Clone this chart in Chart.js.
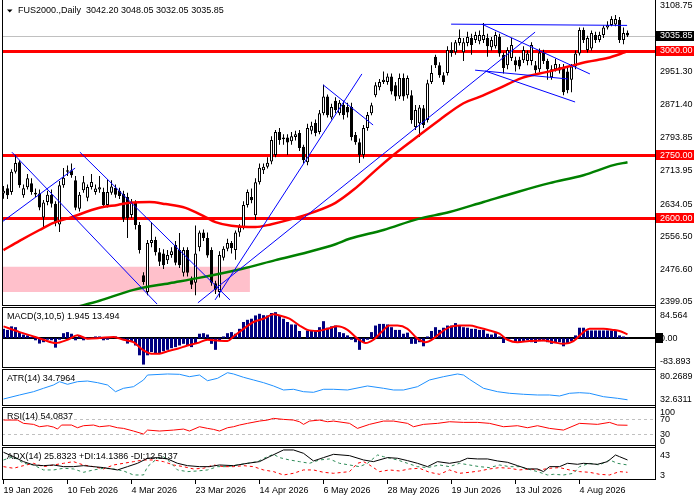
<!DOCTYPE html>
<html><head><meta charset="utf-8">
<script src="https://cdn.jsdelivr.net/npm/chart.js@4/dist/chart.umd.min.js"></script>
<style>
html,body{margin:0;padding:0;background:#fff;}
#wrap{position:relative;width:700px;height:500px;overflow:hidden;background:#fff;}
canvas{position:absolute;left:0;}
</style></head><body>
<div id="wrap">
<canvas id="cMain" width="700" height="306" style="top:0px"></canvas>
<canvas id="cMacd" width="700" height="62" style="top:306px"></canvas>
<canvas id="cAtr" width="700" height="38" style="top:368px"></canvas>
<canvas id="cRsi" width="700" height="40" style="top:406px"></canvas>
<canvas id="cAdx" width="700" height="54" style="top:446px"></canvas>
</div>
<script>
// ---------------- DATA ----------------
const mainTitle = 'FUS2000.,Daily  3042.20 3048.05 3032.05 3035.85';
const macdTitle = 'MACD(3,10,5) 1.945 13.494';
const atrTitle = 'ATR(14) 34.7964';
const rsiTitle = 'RSI(14) 54.0837';
const adxTitle = 'ADX(14) 25.8323 +DI:14.1386 -DI:12.5137';

const dateLabels = ['19 Jan 2026','10 Feb 2026','4 Mar 2026','23 Mar 2026','14 Apr 2026','6 May 2026','28 May 2026','19 Jun 2026','13 Jul 2026','4 Aug 2026'];
const dateTickBars = [0,16,32,48,64,80,96,112,128,144];

const priceOpen = [2658,2671,2662,2710,2733,2654,2673,2683,2660,2658,
2601,2638,2655,2634,2584,2678,2710,2714,2690,2622,
2666,2648,2674,2662,2668,2662,2631,2660,2672,2665,
2657,2650,2607,2636,2583,2463,2423,2540,2547,2518,
2515,2499,2511,2535,2523,2469,2523,2455,2445,2530,
2565,2552,2523,2444,2423,2505,2526,2540,2523,2565,
2578,2631,2650,2606,2685,2714,2722,2735,2750,2805,
2788,2792,2783,2793,2803,2770,2733,2808,2827,2805,
2850,2890,2840,2880,2850,2870,2865,2865,2798,2781,
2750,2815,2850,2893,2912,2925,2925,2938,2917,2890,
2934,2893,2893,2817,2826,2862,2834,2925,2985,2965,
2941,2946,3001,2996,3018,2996,3018,3030,3025,3022,
3025,3030,3008,3010,3032,2990,2965,2982,2977,2978,
2977,2975,2975,2965,2955,2995,2975,2936,2955,2952,
2960,2950,2930,2962,2993,3049,3001,3005,3037,3025,
3037,3055,3061,3062,3073,3025,3042.20];
const priceHigh = [2676,2680,2716,2750,2738,2680,2705,2695,2670,2668,
2643,2665,2668,2640,2688,2719,2725,2730,2700,2662,
2700,2680,2705,2680,2700,2672,2692,2690,2680,2672,
2665,2660,2645,2642,2590,2470,2547,2590,2555,2528,
2525,2523,2530,2545,2564,2530,2530,2460,2582,2570,
2572,2565,2530,2450,2520,2532,2550,2545,2570,2585,
2640,2668,2670,2695,2730,2730,2745,2795,2810,2815,
2800,2800,2805,2808,2810,2775,2825,2830,2835,2858,
2918,2895,2873,2888,2882,2880,2875,2875,2805,2790,
2822,2853,2875,2924,2932,2950,2945,2945,2925,2945,
2945,2940,2905,2870,2870,2870,2930,2965,2990,2972,
2948,3010,3020,3025,3050,3030,3045,3040,3045,3048,
3066,3040,3032,3045,3040,2995,3008,3030,2985,2985,
3010,3000,3020,2975,3005,3002,2980,2965,2980,2968,
2968,2960,2968,3000,3055,3055,3035,3048,3045,3045,
3060,3070,3082,3085,3080,3055,3048.05];
const priceLow = [2646,2645,2655,2706,2672,2648,2668,2655,2650,2618,
2575,2630,2625,2580,2566,2672,2700,2696,2618,2615,
2660,2640,2668,2655,2660,2625,2625,2655,2648,2645,
2590,2552,2600,2572,2515,2440,2415,2530,2510,2485,
2478,2490,2505,2487,2480,2460,2460,2430,2415,2520,
2545,2505,2438,2418,2410,2498,2520,2515,2500,2555,
2572,2625,2635,2595,2680,2705,2718,2728,2745,2775,
2775,2750,2775,2785,2760,2730,2726,2800,2795,2800,
2845,2840,2835,2850,2845,2835,2840,2785,2775,2731,
2742,2808,2845,2888,2905,2920,2918,2895,2880,2884,
2880,2885,2825,2810,2793,2815,2828,2920,2958,2935,
2918,2940,2985,2990,3012,2975,3010,2990,3018,3015,
3018,2985,3000,3005,2985,2945,2955,2975,2950,2955,
2970,2965,2965,2945,2948,2968,2930,2930,2950,2945,
2893,2898,2900,2955,2988,3018,2995,3000,3018,3020,
3030,3050,3058,3058,3018,3015,3032.05];
const priceClose = [2665,2654,2710,2731,2678,2671,2695,2662,2656,2625,
2637,2655,2634,2587,2678,2696,2714,2702,2624,2655,
2685,2674,2686,2670,2673,2631,2662,2675,2655,2652,
2598,2600,2638,2583,2523,2447,2540,2547,2518,2495,
2487,2511,2520,2493,2487,2523,2469,2440,2515,2565,
2552,2510,2445,2428,2511,2526,2540,2528,2565,2578,
2631,2662,2642,2685,2720,2722,2732,2786,2805,2786,
2792,2780,2795,2800,2767,2738,2815,2820,2803,2850,
2890,2845,2865,2858,2875,2846,2852,2793,2781,2750,
2815,2846,2869,2917,2925,2930,2938,2902,2890,2934,
2890,2934,2834,2858,2864,2822,2922,2946,2965,2941,
2925,3001,2994,3020,3030,3020,3032,3013,3037,3037,
3037,3010,3025,3037,2993,2958,3001,3013,2965,2962,
3001,2993,3013,2953,2995,2975,2955,2955,2968,2960,
2900,2905,2962,2993,3049,3025,3030,3042,3025,3037,
3055,3061,3075,3075,3025,3042,3035.85];

const priceTicks = [3108.75,3035.85,3000.00,2951.30,2871.40,2793.85,2750.00,2713.95,2634.05,2600.00,2556.50,2476.60,2399.05];
const levelLines = [3000, 2750, 2600];
const currentPrice = 3035.85;

const maRedBars = [0,4,9,12.5,16.5,24,28.5,31.5,36.5,40.5,45.5,50.5,53,57,63,67,72,77,83,87.5,94,98.5,104,109,115,119,124,129.5,136,141,146,151,155.5];
const maRedVals = [2523,2545,2571,2588,2600,2624,2631,2636,2638,2633,2624,2602,2590,2581,2578,2585,2597,2612,2636,2667,2722,2758,2798,2834,2874,2889,2910,2934,2949,2961,2973,2982,2996];
const maGreenBars = [18,24,32.5,41.5,48.5,59.5,68,76,83,86.5,95,103.5,111.5,120,128.5,136.5,145,152.5,156];
const maGreenVals = [2386,2402,2428,2444,2456,2478,2499,2518,2537,2550,2571,2597,2614,2638,2662,2683,2702,2726,2733];

// trend lines: [bar1, price1, bar2, price2]
const trendLines = [
  [2.1,2757,38.4,2394],
  [19.1,2757,56.6,2404],
  [-0.4,2590,17.9,2719],
  [52.9,2404,89.6,2944],
  [48.6,2397,132.9,3044],
  [79.9,2918,92.4,2822],
  [111.9,3063,155.9,3060],
  [119.6,3063,146.6,2944],
  [117.9,2953,141.1,2932],
  [120.4,2951,142.9,2877]
];
const zoneBars = [-0.375, 61.6];
const zoneLow = 2423, zoneHigh = 2483;

const macdHist = [34,30,43,40,22,13,10,4,-8,-20,
-15,-6,-8,-35,-6,18,22,16,-8,10,
-8,2,-3,6,6,-8,-6,1,6,-2,
-6,-20,-11,-27,-63,-97,-63,-51,-57,-55,
-48,-43,-37,-33,-27,-21,-27,-33,-21,16,
18,13,-21,-43,-11,6,18,22,16,34,
59,67,71,83,89,84,83,92,95,83,
71,59,50,50,26,0,28,26,28,40,
62,38,43,46,22,18,10,
-6,-15,-43,-15,-6,22,46,52,52,50,
40,30,30,16,20,-21,-21,-15,-30,6,
26,40,30,38,46,46,55,46,40,38,
34,34,30,30,16,13,18,6,-18,-6,
-2,-18,-15,-11,-8,-15,-18,-11,-11,-15,
-21,-15,-15,-30,-18,-11,10,38,38,28,
28,28,28,28,28,28,28,10,6,
1.9];
const sigBars = [0,4,7.5,10,13,16,18.5,21,24,27.5,30,32.5,35,37,39,41,43.5,46,48.5,51,53.5,56,57.5,60,62.5,65,67.5,69,71.5,74,76,78.5,81,83.5,86,88.5,90.5,92.5,94.5,96.5,98.5,101,103.5,105.5,107.5,109.5,111.5,114,116.5,119,121.5,124,126,128.5,131.5,135,137.5,140,142.5,145,146.5,150,152.5,154,156];
const sigVals = [43,22,6,-6,-18,-6,10,-2,0,4,-6,-15,-45,-57,-57,-48,-39,-27,-18,-6,-9,-11,6,34,59,71,87,83,71,46,30,26,34,43,30,-2,-18,-6,22,46,46,34,-2,-15,-2,22,40,46,46,38,28,16,-6,-15,-11,-9,-15,-21,-11,22,34,34,30,26,13.5];
const macdTicks = [84.564, 0, -83.893];
const macdTickText = ['84.564','0.00','-83.893'];

const atrBars = [0,4,7.5,10,12.5,14,16,18.5,21,23.5,26,28,30,32.5,35,36,41,44,46.5,49,51,53.5,56,57.5,60,62.5,65,67.5,70,72.5,75,77.5,80,82.5,86,91,95,97.5,100,103.5,106.5,110,113.5,115,116.5,120,123.5,126.5,130,133.5,136.5,139,141.5,144,146.5,150,153.5,156];
const atrVals = [32.6,41.1,48.1,55.3,62.3,69.3,63.7,69.3,70.7,67.2,62.3,48.1,55.3,58.7,72.9,83.4,85.6,84.9,79.9,83.4,71.4,76.4,88.3,85.6,78.6,72.9,67.2,60.2,51.7,53.2,48.1,46.8,53.2,53.2,51.7,60.2,55.3,51.7,51.7,58.7,72.9,79.9,85.6,83.4,74.3,55.3,48.1,44.7,42.6,41.1,41.1,39,44.7,46,44.7,37.5,34.1,31];
const atrTicks = [80.2689, 32.6311];
const atrTickText = ['80.2689','32.6311'];

const rsiBars = [0,3.5,5,7.5,9,11,12.5,13.5,14.5,17,18.5,20,22.5,24,26.5,28.5,30,32.5,35,36,39,42.5,45,46.5,49,51,52.5,54,56,57.5,59,61,64,66,67.5,70,72.5,74,75,76.5,79,81,82.5,86.5,88.5,91.5,95,97.5,101,102.5,105,108.5,111.5,115,118.5,121.5,125,128.5,131,133.5,136.5,140,144,148.5,151.5,153.5,156];
const rsiVals = [68,68,59.2,56.5,50.2,52.9,49.3,44,54.7,54.7,47.5,52.9,54.7,50.2,52.9,47.5,45.8,38.7,30.7,41.3,38.7,41.3,44,38.7,50.2,45.8,43.1,38.7,47.5,50.2,54.7,59.2,65.3,68,72.5,69.8,68,63.5,56.5,65.3,68,63.5,65.3,59.2,45.8,56.5,65.3,65.3,59.2,50.2,56.5,59.2,63.5,61.8,61.8,59.2,50.2,52.9,47.5,52.9,45.8,41.3,59.2,56.5,61.8,54.7,54.1];
const rsiTicks = [100, 70, 30, 0];
const rsiTickText = ['100','70','30','0'];
const rsiLevels = [70, 30];

const adxBars = [0,2.5,5,7.5,10,12.5,15,17.5,20,22.5,25,28.5,31,33.5,36,38.5,41,43.5,46,49,51.5,54,57.5,61,64,66.5,70,72.5,75,77.5,80,82.5,86.5,90,92.5,96,98.5,101,103.5,106,108.5,111.5,114,116,118.5,121,123.5,126,128.5,131,133.5,135,136.5,139,141,143.5,145,148.5,151,153,154,156];
const adxVals = [47.8,40,31.1,25.1,23.9,25.1,22.1,22.1,23.9,22.1,20.4,16.2,22.1,28.1,37.1,38.3,35.9,28.1,23.9,22.1,22.1,25.1,23.9,28.1,31.1,40,52,52,46,32.3,38.3,44.2,41.8,34.1,31.1,38.3,37.1,32.9,28.1,22.1,31.1,28.1,31.1,37.1,35.9,35.9,32.3,29.9,23.9,18,18,13.2,22.1,22.1,28.1,26.3,28.1,26.3,31.1,43,40,34.1];
const pdiBars = [0,2.5,5,7.5,10,12.5,15,17.5,20,22.5,25,27.5,30,32.5,35,36,38.5,40,41.5,43.5,46,48.5,51,53.5,56,58.5,61,63.5,66,67.5,69,71.5,74,76.5,79,81.5,84,86.5,89,91,93.5,95,98.5,101,103.5,106,109,111.5,114,116.5,119,121.5,124,126.5,129,131,133.5,136,137.5,140,142.5,144,146.5,149,151.5,153.5,156];
const pdiVals = [34.1,40,28.1,25.1,16.2,16.2,19.2,18,12,16.2,19.2,18,14.4,7.2,7.2,22.1,37.1,40,31.1,16.2,13.2,14.4,16.2,22.1,22.1,25.1,28.1,31.1,40,44.2,38.3,34.1,31.1,28.1,34.1,35.9,28.1,25.1,22.1,28.1,43,40,34.1,28.1,22.1,20.4,25.1,22.1,28.1,25.1,22.1,20.4,25.1,22.1,22.1,18,13.2,7.2,8.4,7.2,10.2,22.1,28.1,25.1,34.1,28.1,25.1];
const mdiBars = [0,2.5,5,7.5,10,12.5,15,17.5,20,22.5,25,27.5,30,32.5,35,37.5,40,42.5,45,47.5,50,52.5,55,57.5,60,62.5,65,67.5,70,72.5,75,77.5,80,82.5,86.5,88.5,90,91.5,94,96.5,99,101.5,104,106.5,109,111.5,114,116.5,119,121.5,124,126.5,129,131.5,134,136.5,139,141.5,144,146.5,149,151.5,154,156];
const mdiVals = [22.1,19.2,23.9,28.1,22.1,25.1,28.1,31.1,25.1,22.1,18,25.1,28.1,31.1,34.1,34.1,31.1,25.1,22.1,18,19.2,25.1,22.1,22.1,23.9,22.1,16.2,13.2,7.2,10.2,16.2,16.2,12,10.2,13.2,28.1,31.1,25.1,13.2,16.2,14.4,18,19.2,12,8.4,16.2,10.2,12,14.4,18,20.4,19.2,16.2,18,16.2,19.2,20.4,16.2,13.2,12,8.4,7.2,13.2,12];
const adxTicks = [43, 3];
const adxTickText = ['43','3'];

// ---------------- RENDER ----------------
const FAMILY = '"Liberation Sans", Arial, sans-serif';
const FONT = '9px ' + FAMILY;
const X_MIN = -0.375, X_MAX = 163.125;
Chart.defaults.font.family = FAMILY;
Chart.defaults.font.size = 9;

const pts = (xs, ys) => xs.map((x, i) => ({x: x, y: ys[i]}));
const panelCfg = {};

const panelPlugin = {
  id: 'mtPanel',
  beforeDatasetsDraw(chart) {
    const o = panelCfg[chart.canvas.id]; if (!o) return;
    const ctx = chart.ctx, ca = chart.chartArea, ys = chart.scales.y;
    ctx.save();
    ctx.beginPath(); ctx.rect(ca.left, ca.top, ca.right - ca.left, ca.bottom - ca.top); ctx.clip();
    (o.levels || []).forEach(l => {
      let py = Math.round(ys.getPixelForValue(l.v));
      if (l.width % 2 === 1) py += 0.5;
      ctx.strokeStyle = l.color; ctx.lineWidth = l.width; ctx.setLineDash(l.dash || []);
      ctx.beginPath(); ctx.moveTo(ca.left, py); ctx.lineTo(ca.right, py); ctx.stroke();
    });
    ctx.setLineDash([]);
    ctx.font = FONT; ctx.fillStyle = '#000'; ctx.textBaseline = 'middle'; ctx.textAlign = 'left';
    let tx = 7;
    if (o.header) {
      ctx.beginPath(); ctx.moveTo(7, 9.5); ctx.lineTo(12.5, 9.5); ctx.lineTo(9.75, 12.5); ctx.closePath(); ctx.fill();
      tx = 18;
    }
    ctx.fillText(o.title, tx, 11);
    ctx.restore();
  },
  afterDraw(chart) {
    const o = panelCfg[chart.canvas.id]; if (!o) return;
    const ctx = chart.ctx, ca = chart.chartArea, ys = chart.scales.y;
    ctx.save();
    ctx.strokeStyle = '#000'; ctx.lineWidth = 1; ctx.setLineDash([]);
    ctx.beginPath();
    if (o.frameTop) { ctx.moveTo(ca.left, ca.top + 0.5); ctx.lineTo(ca.right, ca.top + 0.5); }
    ctx.moveTo(ca.left, ca.bottom - 0.5); ctx.lineTo(ca.right, ca.bottom - 0.5);
    ctx.moveTo(ca.left + 0.5, ca.top); ctx.lineTo(ca.left + 0.5, ca.bottom);
    ctx.moveTo(ca.right - 0.5, 0); ctx.lineTo(ca.right - 0.5, ca.bottom);
    ctx.stroke();
    ctx.font = FONT; ctx.textBaseline = 'middle'; ctx.textAlign = 'left';
    o.axisValues.forEach((v, i) => {
      let py = ys.getPixelForValue(v);
      py = Math.min(Math.max(py, ca.top + 5), ca.bottom - 5);
      const box = o.axisBoxes ? o.axisBoxes[i] : null;
      let tc = '#000';
      if (box) {
        ctx.fillStyle = box[0];
        ctx.fillRect(ca.right, Math.round(py) - 5, box[1], 10);
        tc = box[2];
      }
      ctx.fillStyle = tc;
      ctx.fillText(o.axisText[i], ca.right + 4, py + 0.5);
    });
    ctx.restore();
  }
};

function hiddenX() {
  return { type: 'linear', min: X_MIN, max: X_MAX, display: false, offset: false, grid: {offset: false} };
}

function makeChart(id, datasets, yMin, yMax, padTop, xAxis) {
  return new Chart(document.getElementById(id), {
    type: 'bar',
    data: { datasets: datasets },
    options: {
      responsive: false, animation: false, events: [],
      layout: { padding: { left: 2, right: 0, top: padTop, bottom: 0 } },
      plugins: { legend: { display: false }, tooltip: { enabled: false } },
      scales: {
        x: xAxis || hiddenX(),
        y: { type: 'linear', position: 'right', min: yMin, max: yMax,
             grid: { display: false }, border: { display: false }, ticks: { display: false },
             afterFit: s => { s.width = 44; } }
      }
    },
    plugins: [panelPlugin]
  });
}

function lineDs(data, color, width, order, extra) {
  return Object.assign({ type: 'line', data: data, borderColor: color, borderWidth: width,
    pointRadius: 0, fill: false, tension: 0, order: order, clip: 0 }, extra || {});
}

// ---- main price panel ----
const barIdx = priceOpen.map((_, i) => i);
const upDown = barIdx.map(i => priceClose[i] >= priceOpen[i] ? '#ffffff' : '#000000');
const mainDatasets = [
  lineDs(pts(zoneBars, [zoneHigh, zoneHigh]), 'rgba(0,0,0,0)', 0, 20,
    { fill: { value: zoneLow }, backgroundColor: '#FFC0CB' }),
  { type: 'bar', data: barIdx.map(i => ({x: i, y: [priceLow[i], priceHigh[i]]})),
    backgroundColor: '#000', borderWidth: 0, barThickness: 1, grouped: false, inflateAmount: 0, order: 4 },
  { type: 'bar', data: barIdx.map(i => ({x: i, y: [priceOpen[i], priceClose[i]]})),
    backgroundColor: upDown, borderColor: '#000', borderWidth: 1, borderSkipped: false,
    barThickness: 3, grouped: false, inflateAmount: 0, minBarLength: 1, order: 3 },
  lineDs(pts(maRedBars, maRedVals), '#FF0000', 2.5, 2, { cubicInterpolationMode: 'monotone' }),
  lineDs(pts(maGreenBars, maGreenVals), '#008000', 2.5, 2, { cubicInterpolationMode: 'monotone' })
].concat(trendLines.map(t => lineDs([{x: t[0], y: t[1]}, {x: t[2], y: t[3]}], '#0000FF', 1, 1)));

panelCfg.cMain = {
  title: mainTitle, header: true, frameTop: false,
  levels: [{v: currentPrice, color: '#C0C0C0', width: 1}].concat(levelLines.map(v => ({v: v, color: '#FF0000', width: 3}))),
  axisValues: priceTicks,
  axisText: priceTicks.map(v => v.toFixed(2)),
  axisBoxes: priceTicks.map(v => v === currentPrice ? ['#000', 38, '#fff'] : (levelLines.indexOf(v) >= 0 ? ['#FF0000', 38, '#fff'] : null))
};
makeChart('cMain', mainDatasets, 2389.4, 3120.7, 0);

// ---- MACD ----
panelCfg.cMacd = {
  title: macdTitle, frameTop: true,
  levels: [{v: 0, color: '#000', width: 2}],
  axisValues: macdTicks, axisText: macdTickText,
  axisBoxes: macdTicks.map(v => v === 0 ? ['#000', 7, '#000'] : null)
};
makeChart('cMacd', [
  { type: 'bar', data: pts(barIdx, macdHist), backgroundColor: '#000080', borderWidth: 0,
    barThickness: 3, grouped: false, inflateAmount: 0, order: 2 },
  lineDs(pts(sigBars, sigVals), '#FF0000', 2, 1, { cubicInterpolationMode: 'monotone' })
], -109.5, 113.9, 1);

// ---- ATR ----
panelCfg.cAtr = { title: atrTitle, frameTop: true, levels: [], axisValues: atrTicks, axisText: atrTickText };
makeChart('cAtr', [lineDs(pts(atrBars, atrVals), '#1E90FF', 1, 1)], 17.8, 96.15, 1);

// ---- RSI ----
panelCfg.cRsi = { title: rsiTitle, frameTop: true,
  levels: rsiLevels.map(v => ({v: v, color: '#C0C0C0', width: 1, dash: [3, 3]})),
  axisValues: rsiTicks, axisText: rsiTickText };
makeChart('cRsi', [lineDs(pts(rsiBars, rsiVals), '#FF0000', 1, 1)], -1.2, 102.8, 1);

// ---- ADX ----
panelCfg.cAdx = { title: adxTitle, frameTop: true, levels: [], axisValues: adxTicks, axisText: adxTickText };
const dateAxis = {
  type: 'linear', min: X_MIN, max: X_MAX, position: 'bottom', offset: false,
  grid: { display: true, drawOnChartArea: false, drawTicks: true, tickLength: 4, color: '#000', offset: false },
  border: { display: false },
  ticks: { autoSkip: false, maxRotation: 0, minRotation: 0, align: 'start', padding: 1, color: '#000',
           font: { family: FAMILY, size: 9 }, callback: (v, i) => dateLabels[i] },
  afterBuildTicks: s => { s.ticks = dateTickBars.map(v => ({value: v})); },
  afterFit: s => { s.height = 20; }
};
makeChart('cAdx', [
  lineDs(pts(pdiBars, pdiVals), '#2E8B57', 1, 2, { borderDash: [3, 3] }),
  lineDs(pts(mdiBars, mdiVals), '#FF0000', 1, 2, { borderDash: [3, 3] }),
  lineDs(pts(adxBars, adxVals), '#000000', 1, 1)
], -1.8, 57.3, 1, dateAxis);
</script>
</body></html>
